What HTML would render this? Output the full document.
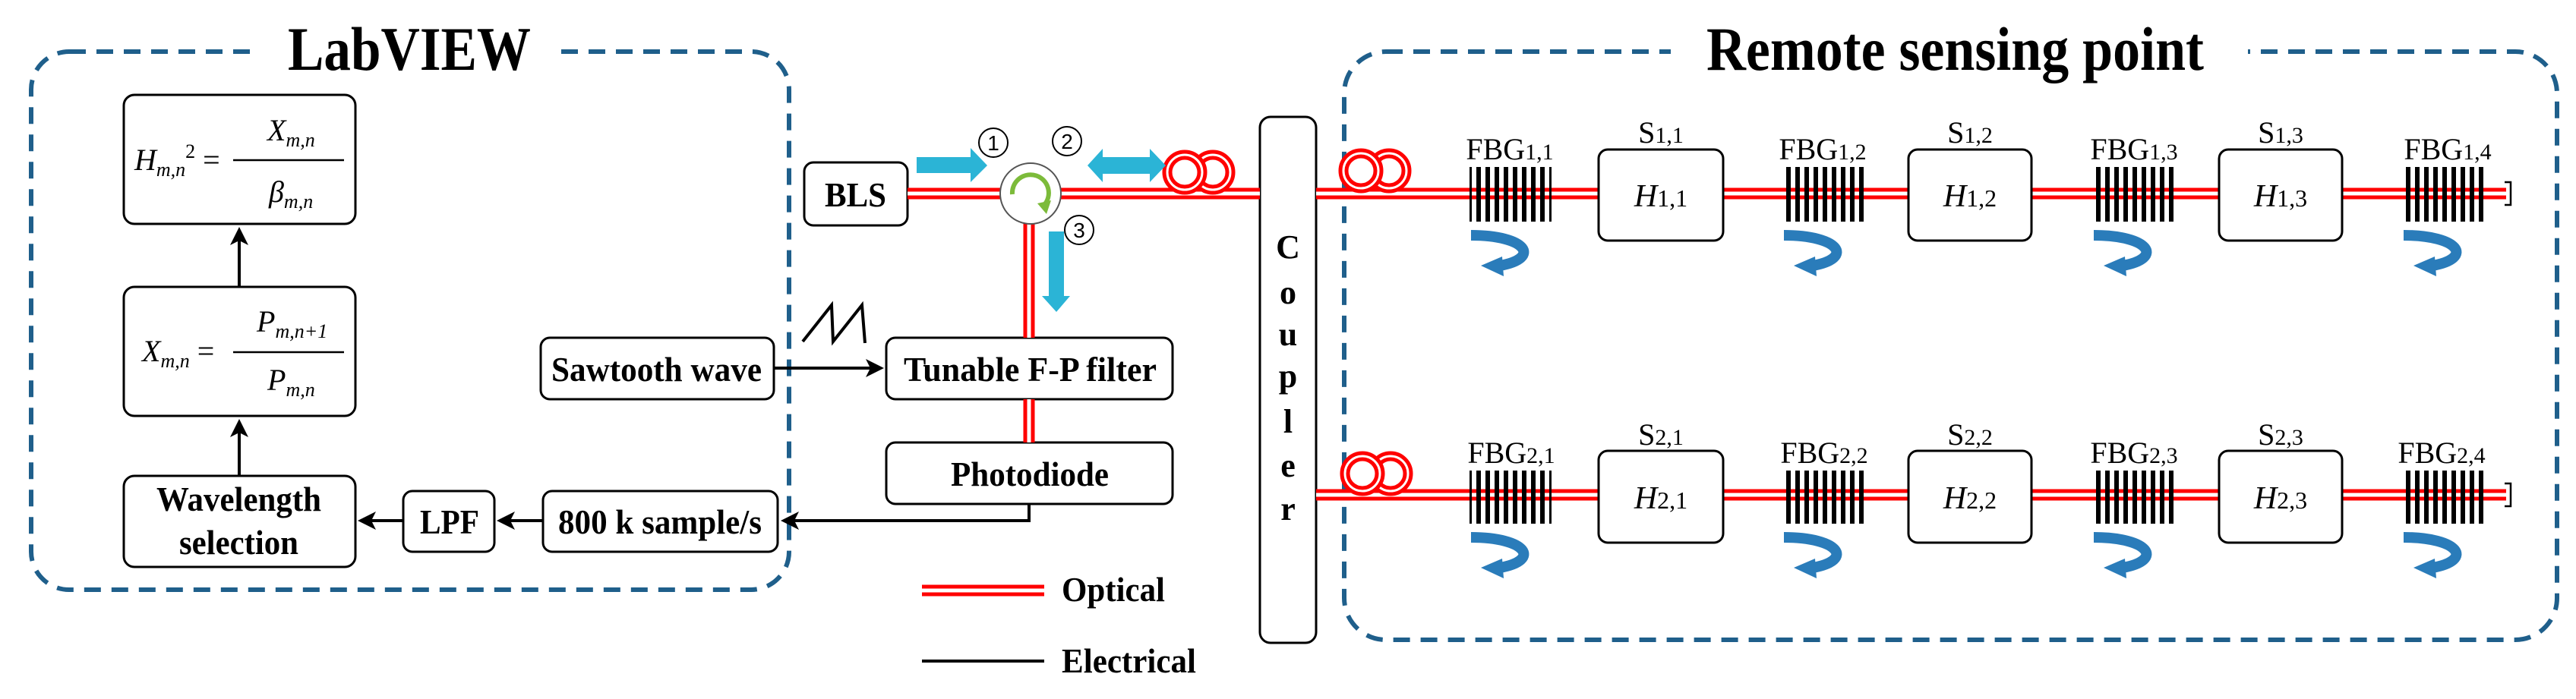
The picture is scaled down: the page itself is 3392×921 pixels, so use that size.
<!DOCTYPE html>
<html><head><meta charset="utf-8"><style>html,body{margin:0;padding:0;background:#fff}svg{display:block}</style></head><body>
<svg width="3392" height="921" viewBox="0 0 3392 921" xmlns="http://www.w3.org/2000/svg" font-family="'Liberation Serif', serif">
<defs>
<pattern id="gr" width="12" height="10" patternUnits="userSpaceOnUse"><rect x="0" y="0" width="6" height="10" fill="#000"/></pattern>
<marker id="ah" markerWidth="6" markerHeight="6" refX="5" refY="3" orient="auto" markerUnits="strokeWidth"><path d="M0,0 L6,3 L0,6 L1.5,3 z" fill="#000"/></marker>
</defs>
<g fill="none" stroke="#1f5f8b" stroke-width="6" stroke-dasharray="22 14">
<rect x="41" y="68" width="998" height="709" rx="50"/>
<rect x="1770" y="68" width="1597" height="775" rx="55"/>
</g>
<rect x="335" y="30" width="400" height="75" fill="#fff"/>
<rect x="2200" y="30" width="760" height="80" fill="#fff"/>
<text x="379" y="92" font-size="82" font-weight="bold" textLength="320" lengthAdjust="spacingAndGlyphs">LabVIEW</text>
<text x="2247" y="92" font-size="82" font-weight="bold" textLength="655" lengthAdjust="spacingAndGlyphs">Remote sensing point</text>

<g fill="#fff" stroke="#000" stroke-width="3">
<rect x="163" y="125" width="305" height="170" rx="14"/>
<rect x="163" y="378" width="305" height="170" rx="14"/>
<rect x="163" y="627" width="305" height="120" rx="14"/>
<rect x="531" y="647" width="120" height="80" rx="12"/>
<rect x="715" y="647" width="309" height="80" rx="12"/>
<rect x="712" y="445" width="307" height="81" rx="12"/>
<rect x="1167" y="445" width="377" height="81" rx="12"/>
<rect x="1167" y="583" width="377" height="81" rx="12"/>
<rect x="1059" y="214" width="136" height="83" rx="12"/>
<rect x="1659" y="154" width="74" height="693" rx="14"/>
</g>

<!-- electrical arrows -->
<g stroke="#000" stroke-width="4" fill="none">
<line x1="315" y1="627" x2="315" y2="556" marker-end="url(#ah)"/>
<line x1="315" y1="378" x2="315" y2="303" marker-end="url(#ah)"/>
<line x1="1019" y1="485" x2="1160" y2="485" marker-end="url(#ah)"/>
<polyline points="1355,664 1355,686 1032,686" marker-end="url(#ah)"/>
<line x1="715" y1="686" x2="658" y2="686" marker-end="url(#ah)"/>
<line x1="531" y1="686" x2="475" y2="686" marker-end="url(#ah)"/>
<polyline points="1057,450 1095,402 1097,450 1135,402 1139,452" stroke-width="4"/>
<line x1="1214" y1="871" x2="1375" y2="871"/>
</g>

<!-- optical lines -->
<g stroke="#f00" stroke-width="15" fill="none">
<line x1="1195" y1="255" x2="1659" y2="255"/>
<line x1="1355" y1="255" x2="1355" y2="445"/>
<line x1="1355" y1="526" x2="1355" y2="583"/>
<line x1="1733" y1="255" x2="3300" y2="255"/>
<line x1="1733" y1="652" x2="3300" y2="652"/>
<line x1="1214" y1="778" x2="1375" y2="778"/>
</g>
<g stroke="#fff" stroke-width="5" fill="none">
<line x1="1195" y1="255" x2="1659" y2="255"/>
<line x1="1355" y1="255" x2="1355" y2="445"/>
<line x1="1355" y1="526" x2="1355" y2="583"/>
<line x1="1733" y1="255" x2="3300" y2="255"/>
<line x1="1733" y1="652" x2="3300" y2="652"/>
<line x1="1214" y1="778" x2="1375" y2="778"/>
</g>
<g fill="none" stroke="#000" stroke-width="2.5">
<path d="M3298,240 h8 v30 h-8"/><path d="M3298,637 h8 v30 h-8"/>
</g>

<!-- coils -->
<g fill="#fff" stroke="#f00" stroke-width="5">
<circle cx="1597" cy="227" r="27"/><circle cx="1597" cy="227" r="19"/>
<circle cx="1560" cy="227" r="27"/><circle cx="1560" cy="227" r="19"/>
<circle cx="1829" cy="225" r="27"/><circle cx="1829" cy="225" r="19"/>
<circle cx="1792" cy="225" r="27"/><circle cx="1792" cy="225" r="19"/>
<circle cx="1831" cy="624" r="27"/><circle cx="1831" cy="624" r="19"/>
<circle cx="1794" cy="624" r="27"/><circle cx="1794" cy="624" r="19"/>
</g>

<!-- circulator -->
<circle cx="1357" cy="255" r="40" fill="#fff" stroke="#555" stroke-width="2"/>
<path d="M1333,256 A24,24 0 1 1 1375,270" fill="none" stroke="#7cbb3a" stroke-width="6"/>
<polygon points="1366,268 1384,264 1378,282" fill="#7cbb3a"/>
<g fill="#2bb4d6">
<polygon points="1207,207 1278,207 1278,195 1300,218 1278,240 1278,228 1207,228"/>
<polygon points="1432,218 1452,196 1452,207 1514,207 1514,196 1535,218 1514,240 1514,229 1452,229 1452,240"/>
<polygon points="1381,305 1401,305 1401,390 1409,390 1391,411 1372,390 1381,390"/>
</g>
<g fill="#fff" stroke="#000" stroke-width="2">
<circle cx="1308" cy="188" r="19"/><circle cx="1405" cy="186" r="19"/><circle cx="1421" cy="303" r="19"/>
</g>
<g font-family="'Liberation Sans', sans-serif" font-size="28" text-anchor="middle">
<text x="1308" y="198">1</text><text x="1405" y="196">2</text><text x="1421" y="313">3</text>
</g>

<!-- box texts -->
<g font-size="46" font-weight="bold" lengthAdjust="spacingAndGlyphs">
<text x="726" y="502" textLength="277" lengthAdjust="spacingAndGlyphs">Sawtooth wave</text>
<text x="1190" y="502" textLength="333" lengthAdjust="spacingAndGlyphs">Tunable F-P filter</text>
<text x="1252" y="640" textLength="208" lengthAdjust="spacingAndGlyphs">Photodiode</text>
<text x="735" y="703" textLength="268" lengthAdjust="spacingAndGlyphs">800 k sample/s</text>
<text x="553" y="703" textLength="78" lengthAdjust="spacingAndGlyphs">LPF</text>
<text x="206" y="673" textLength="217" lengthAdjust="spacingAndGlyphs">Wavelength</text>
<text x="236" y="730" textLength="157" lengthAdjust="spacingAndGlyphs">selection</text>
<text x="1086" y="272" textLength="81" lengthAdjust="spacingAndGlyphs">BLS</text>
<text x="1398" y="792" textLength="136" lengthAdjust="spacingAndGlyphs">Optical</text>
<text x="1398" y="886" textLength="177" lengthAdjust="spacingAndGlyphs">Electrical</text>
</g>
<g font-size="44" font-weight="bold" text-anchor="middle">
<text x="1696" y="340">C</text><text x="1696" y="400">o</text><text x="1696" y="455">u</text><text x="1696" y="510">p</text><text x="1696" y="570">l</text><text x="1696" y="628">e</text><text x="1696" y="685">r</text>
</g>

<!-- formulas -->
<g font-size="40" font-style="italic">
<text x="177" y="224">H<tspan font-size="26" dy="8">m,n</tspan><tspan font-size="26" font-style="normal" dy="-24">2</tspan><tspan font-style="normal" dy="16"> =</tspan></text>
<text x="352" y="185">X<tspan font-size="26" dy="8">m,n</tspan></text>
<text x="354" y="266">β<tspan font-size="26" dy="8">m,n</tspan></text>
<text x="187" y="476">X<tspan font-size="26" dy="8">m,n</tspan><tspan font-style="normal" dy="-8"> =</tspan></text>
<text x="338" y="437">P<tspan font-size="26" dy="8">m,n+1</tspan></text>
<text x="352" y="514">P<tspan font-size="26" dy="8">m,n</tspan></text>
</g>
<g stroke="#000" stroke-width="2.5"><line x1="307" y1="211" x2="453" y2="211"/><line x1="307" y1="464" x2="453" y2="464"/></g>

<!-- gratings -->
<g fill="url(#gr)">
<rect x="1935" y="220" width="108" height="72"/><rect x="2347" y="220" width="108" height="72"/><rect x="2755" y="220" width="108" height="72"/><rect x="3163" y="220" width="108" height="72"/>
<rect x="1935" y="620" width="108" height="70"/><rect x="2347" y="620" width="108" height="70"/><rect x="2755" y="620" width="108" height="70"/><rect x="3163" y="620" width="108" height="70"/>
</g>
<g fill="#fff" stroke="#000" stroke-width="3">
<rect x="2105" y="197" width="164" height="120" rx="12"/><rect x="2513" y="197" width="162" height="120" rx="12"/><rect x="2922" y="197" width="162" height="120" rx="12"/>
<rect x="2105" y="594" width="164" height="121" rx="12"/><rect x="2513" y="594" width="162" height="121" rx="12"/><rect x="2922" y="594" width="162" height="121" rx="12"/>
</g>
<g font-size="40" text-anchor="middle">
<text x="1988" y="210">FBG<tspan font-size="30">1,1</tspan></text>
<text x="2400" y="210">FBG<tspan font-size="30">1,2</tspan></text>
<text x="2810" y="210">FBG<tspan font-size="30">1,3</tspan></text>
<text x="3223" y="210">FBG<tspan font-size="30">1,4</tspan></text>
<text x="1990" y="610">FBG<tspan font-size="30">2,1</tspan></text>
<text x="2402" y="610">FBG<tspan font-size="30">2,2</tspan></text>
<text x="2810" y="610">FBG<tspan font-size="30">2,3</tspan></text>
<text x="3215" y="610">FBG<tspan font-size="30">2,4</tspan></text>
<text x="2187" y="188">S<tspan font-size="30">1,1</tspan></text>
<text x="2594" y="188">S<tspan font-size="30">1,2</tspan></text>
<text x="3003" y="188">S<tspan font-size="30">1,3</tspan></text>
<text x="2187" y="586">S<tspan font-size="30">2,1</tspan></text>
<text x="2594" y="586">S<tspan font-size="30">2,2</tspan></text>
<text x="3003" y="586">S<tspan font-size="30">2,3</tspan></text>
</g>
<g font-size="42" text-anchor="middle"><g font-style="italic">
<text x="2187" y="272">H<tspan font-style="normal" font-size="32">1,1</tspan></text>
<text x="2594" y="272">H<tspan font-style="normal" font-size="32">1,2</tspan></text>
<text x="3003" y="272">H<tspan font-style="normal" font-size="32">1,3</tspan></text>
<text x="2187" y="670">H<tspan font-style="normal" font-size="32">2,1</tspan></text>
<text x="2594" y="670">H<tspan font-style="normal" font-size="32">2,2</tspan></text>
<text x="3003" y="670">H<tspan font-style="normal" font-size="32">2,3</tspan></text>
</g></g>

<!-- curved blue arrows -->
<g id="ca">
<path d="M1937,310 C2010,310 2030,340 1975,350" fill="none" stroke="#2a7cba" stroke-width="14"/>
<polygon points="1978,338 1980,364 1950,350" fill="#2a7cba"/>
</g>
<use href="#ca" x="412"/><use href="#ca" x="820"/><use href="#ca" x="1228"/>
<use href="#ca" y="398"/><use href="#ca" x="412" y="398"/><use href="#ca" x="820" y="398"/><use href="#ca" x="1228" y="398"/>
</svg>
</body></html>
